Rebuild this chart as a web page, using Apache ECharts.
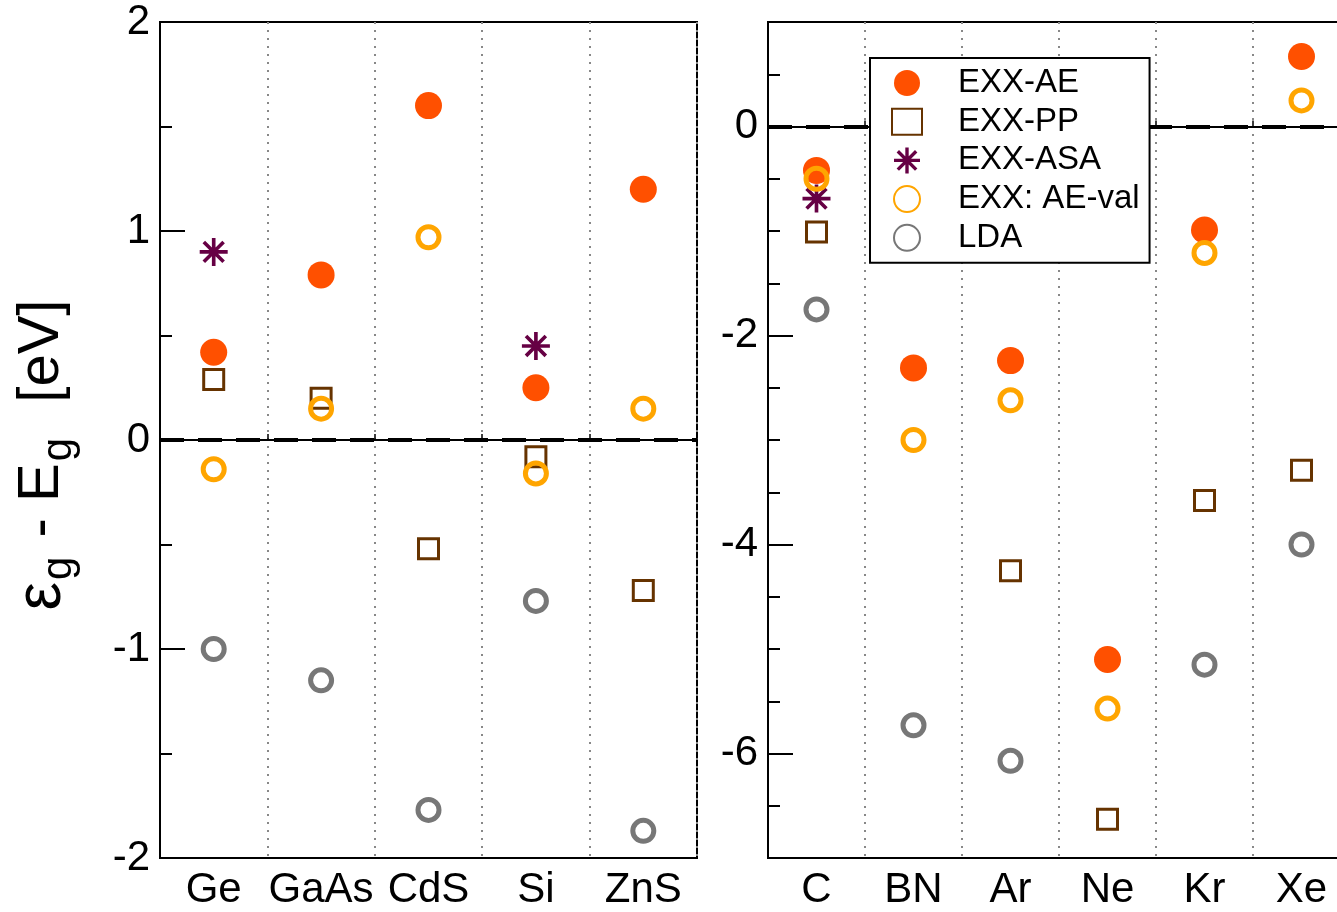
<!DOCTYPE html>
<html>
<head>
<meta charset="utf-8">
<script src="https://cdn.jsdelivr.net/npm/echarts@6/dist/echarts.min.js"></script>
<style>
html,body{margin:0;padding:0;background:#fff;}
#chart{width:1337px;height:912px;}
</style>
</head>
<body>
<div id="chart"></div>
<script>
// ---- data ----
const leftCats = ['Ge', 'GaAs', 'CdS', 'Si', 'ZnS'];
const rightCats = ['C', 'BN', 'Ar', 'Ne', 'Kr', 'Xe'];
const seriesNames = ['EXX-AE', 'EXX-PP', 'EXX-ASA', 'EXX: AE-val', 'LDA'];

const leftAE    = [0.42, 0.79, 1.60, 0.25, 1.20];
const leftPP    = [0.29, 0.20, -0.52, -0.08, -0.72];
const leftASA   = [0.90, null, null, 0.45, null];
const leftAEval = [-0.14, 0.15, 0.97, -0.16, 0.15];
const leftLDA   = [-1.00, -1.15, -1.77, -0.77, -1.87];

const rightAE    = [-0.42, -2.31, -2.24, -5.10, -0.99, 0.67];
const rightPP    = [-1.01, null, -4.25, -6.63, -3.58, -3.29];
const rightASA   = [-0.69, null, null, null, null, null];
const rightAEval = [-0.50, -3.00, -2.62, -5.57, -1.21, 0.25];
const rightLDA   = [-1.75, -5.73, -6.07, null, -5.15, -4.00];

const leftYLabels = [-2, -1, 0, 1, 2];
const rightYLabels = [-6, -4, -2, 0];

// ---- styles ----
const FONT = "'Liberation Sans', Arial, Helvetica, sans-serif";
const STAR = 'path://M8.7 0L11.3 0L11.3 20L8.7 20ZM0 8.7L20 8.7L20 11.3L0 11.3ZM2.01 3.85L3.85 2.01L17.99 16.15L16.15 17.99ZM16.15 2.01L17.99 3.85L3.85 17.99L2.01 16.15Z';

const styles = [
  {symbol: 'circle', symbolSize: 27, itemStyle: {color: '#ff5000', opacity: 1}},
  {symbol: 'rect', symbolSize: 20, itemStyle: {color: 'rgba(255,255,255,0)', borderColor: '#663300', borderWidth: 3, opacity: 1}},
  {symbol: STAR, symbolSize: 28, itemStyle: {color: '#660044', opacity: 1}},
  {symbol: 'circle', symbolSize: 21, itemStyle: {color: 'rgba(255,255,255,0)', borderColor: '#ffa500', borderWidth: 5, opacity: 1}},
  {symbol: 'circle', symbolSize: 21, itemStyle: {color: 'rgba(255,255,255,0)', borderColor: '#777777', borderWidth: 5, opacity: 1}}
];

const zeroLine = {
  silent: true,
  symbol: 'none',
  label: {show: false},
  lineStyle: {color: '#000', type: [24, 14], width: 4, opacity: 1, cap: 'butt'},
  data: [{yAxis: 0}]
};

function makeSeries(datasets, xIdx, yIdx) {
  return datasets.map((d, i) => Object.assign({
    name: seriesNames[i],
    type: 'scatter',
    xAxisIndex: xIdx,
    yAxisIndex: yIdx,
    data: d,
    z: 3 + i,
    markLine: i === 0 ? zeroLine : undefined
  }, JSON.parse(JSON.stringify(styles[i]))));
}

const axisLineStyle = {show: true, lineStyle: {color: '#000', width: 2}};

const xAxisBase = (cats, gridIndex) => ({
  type: 'category',
  gridIndex: gridIndex,
  data: cats,
  boundaryGap: true,
  axisLine: axisLineStyle,
  axisTick: {show: true, inside: true, length: 6, alignWithLabel: false, lineStyle: {color: '#000', width: 1.5}},
  axisLabel: {fontSize: 42, fontFamily: FONT, color: '#000', margin: 11, interval: 0},
  splitLine: {show: true, interval: 0, lineStyle: {color: '#888', type: [2, 6], width: 2}}
});

const option = {
  backgroundColor: '#fff',
  animation: false,
  grid: [
    {left: 160, top: 22, width: 537, height: 836, show: true, borderColor: '#000', borderWidth: 2, backgroundColor: 'transparent', outerBoundsMode: 'none', containLabel: false},
    {left: 768, top: 22, width: 582, height: 836, show: true, borderColor: '#000', borderWidth: 2, backgroundColor: 'transparent', outerBoundsMode: 'none', containLabel: false}
  ],
  legend: {
    left: 870,
    top: 58,
    orient: 'vertical',
    data: seriesNames,
    backgroundColor: '#fff',
    borderColor: '#000',
    borderWidth: 2,
    borderRadius: 0,
    padding: [8, 10, 8, 21],
    itemWidth: 30,
    itemHeight: 26,
    itemGap: 4.7,
    selectedMode: false,
    textStyle: {fontSize: 33, fontFamily: FONT, color: '#000', lineHeight: 34, padding: [0, 0, 0, 31]},
    z: 10
  },
  xAxis: [xAxisBase(leftCats, 0), xAxisBase(rightCats, 1)],
  yAxis: [
    {
      type: 'value', gridIndex: 0, position: 'left', min: -2, max: 2, interval: 1,
      axisLine: axisLineStyle,
      axisTick: {show: true, inside: true, length: 25, lineStyle: {color: '#000', width: 2}},
      minorTick: {show: true, splitNumber: 2, length: 12, lineStyle: {color: '#000', width: 2}},
      axisLabel: {fontSize: 42, fontFamily: FONT, color: '#000', margin: 10, customValues: leftYLabels},
      splitLine: {show: false},
      name: '{e|ε}{s|g}{a| - E}{s|g}{a|  [eV]}',
      nameLocation: 'middle',
      nameRotate: 90,
      nameGap: 80,
      nameTextStyle: {
        fontFamily: FONT, fontSize: 58, color: '#000', padding: [0, 30, 0, 0],
        rich: {
          e: {fontFamily: FONT, fontSize: 64, color: '#000', verticalAlign: 'middle'},
          a: {fontFamily: FONT, fontSize: 58, color: '#000', verticalAlign: 'middle'},
          s: {fontFamily: FONT, fontSize: 42, color: '#000', verticalAlign: 'bottom', padding: [34, 3, 0, 2]}
        }
      }
    },
    {
      type: 'value', gridIndex: 1, position: 'left', min: -7, max: 1, interval: 0.5,
      axisLine: axisLineStyle,
      axisTick: {show: true, inside: true, length: 12, lineStyle: {color: '#000', width: 2}},
      axisLabel: {fontSize: 42, fontFamily: FONT, color: '#000', margin: 10, customValues: rightYLabels},
      splitLine: {show: false}
    },
    {
      type: 'value', gridIndex: 1, position: 'left', offset: 0, min: -7, max: 1, interval: 0.5,
      axisLine: {show: false},
      axisTick: {show: true, inside: true, length: 25, customValues: rightYLabels, lineStyle: {color: '#000', width: 2}},
      axisLabel: {show: false},
      splitLine: {show: false}
    }
  ],
  series: [].concat(
    makeSeries([leftAE, leftPP, leftASA, leftAEval, leftLDA], 0, 0),
    makeSeries([rightAE, rightPP, rightASA, rightAEval, rightLDA], 1, 1)
  )
};

const chart = echarts.init(document.getElementById('chart'), null, {renderer: 'canvas'});
chart.setOption(option);
</script>
</body>
</html>
